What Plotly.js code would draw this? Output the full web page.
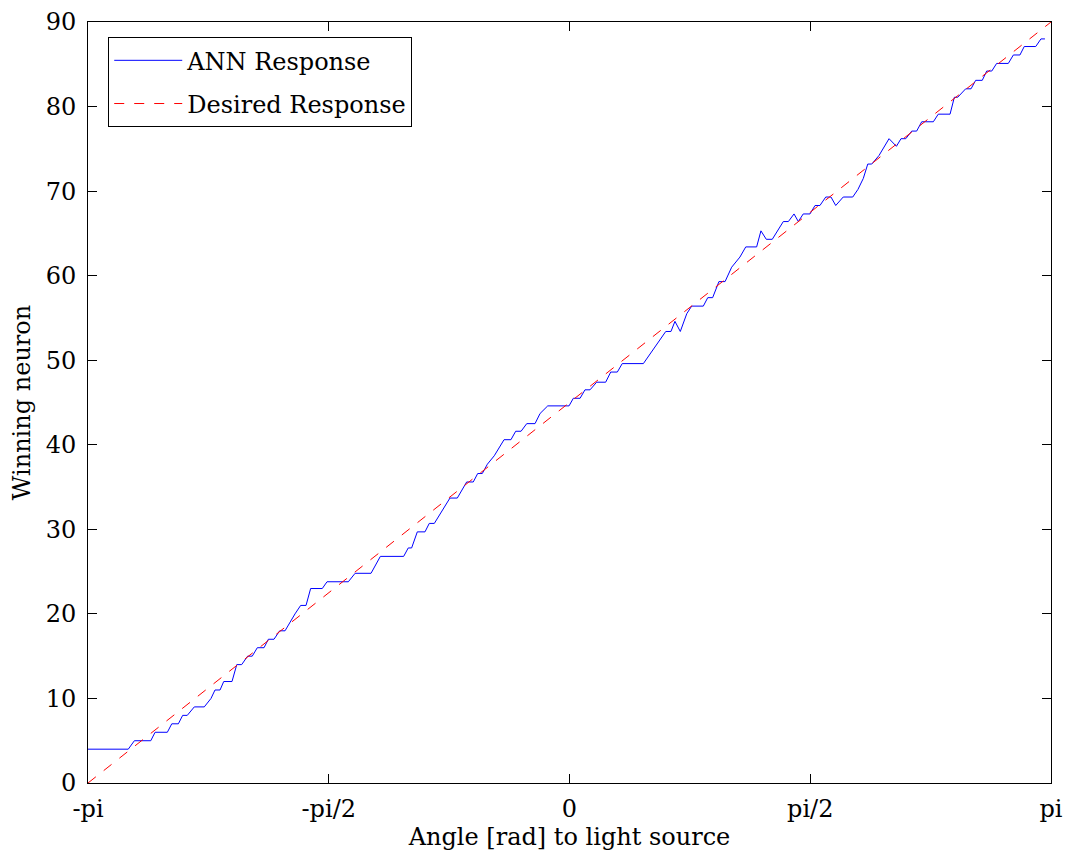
<!DOCTYPE html>
<html>
<head>
<meta charset="utf-8">
<script src="https://cdn.plot.ly/plotly-3.0.1.min.js"></script>
<style>html,body{margin:0;padding:0;background:#fff;}#chart{width:1069px;height:855px;}</style>
</head>
<body>
<div id="chart"></div>
<script>
// ANN response (angle in rad, winning neuron)
const annX = [-3.142,-2.879,-2.839,-2.732,-2.704,-2.624,-2.595,-2.552,-2.524,-2.494,
  -2.448,-2.383,-2.339,-2.313,-2.280,-2.256,-2.202,-2.171,-2.139,-2.100,
  -2.070,-2.037,-1.993,-1.965,-1.928,-1.891,-1.856,-1.824,-1.791,-1.754,
  -1.719,-1.689,-1.613,-1.582,-1.443,-1.399,-1.295,-1.234,-1.082,-1.052,
  -1.030,-0.993,-0.943,-0.915,-0.882,-0.780,-0.732,-0.671,-0.628,-0.599,
  -0.569,-0.536,-0.491,-0.427,-0.382,-0.351,-0.316,-0.279,-0.225,-0.192,
  -0.142,-0.003,0.025,0.069,0.101,0.134,0.177,0.236,0.269,0.312,
  0.344,0.482,0.525,0.590,0.628,0.662,0.688,0.723,0.765,0.797,
  0.873,0.902,0.934,0.975,1.015,1.058,1.112,1.150,1.221,1.249,
  1.284,1.323,1.395,1.428,1.465,1.493,1.525,1.569,1.602,1.634,
  1.672,1.706,1.737,1.786,1.848,1.882,1.917,1.946,1.972,2.019,
  2.085,2.133,2.163,2.194,2.233,2.265,2.298,2.374,2.406,2.483,
  2.511,2.533,2.585,2.620,2.650,2.693,2.722,2.755,2.787,2.863,
  2.896,2.939,2.967,3.042,3.076,3.102];
const annY = [4.0,4.0,5.0,5.0,6.0,6.0,7.0,7.0,8.0,8.0,
  9.0,9.0,10.0,11.0,11.0,12.0,12.0,14.0,14.0,15.0,
  15.0,16.0,16.0,17.0,17.0,18.0,18.0,19.0,20.0,21.0,
  21.0,23.0,23.0,23.8,23.8,24.8,24.8,26.8,26.8,27.8,
  27.8,29.7,29.7,30.7,30.7,33.7,33.7,35.6,35.6,36.6,
  36.6,37.7,38.7,40.6,40.6,41.6,41.6,42.5,42.5,43.7,
  44.6,44.6,45.5,45.5,46.5,46.5,47.4,47.4,48.6,48.6,
  49.6,49.6,50.7,52.5,53.4,53.4,54.6,53.4,55.5,56.4,
  56.4,57.4,57.4,59.3,59.3,61.0,62.2,63.4,63.4,65.3,
  64.3,64.3,66.4,66.4,67.3,66.4,67.3,67.3,68.3,68.3,
  69.3,69.3,68.3,69.3,69.3,70.2,71.5,73.2,73.2,74.2,
  76.2,75.3,76.2,76.2,77.1,77.1,78.2,78.2,79.1,79.1,
  81.1,81.1,82.1,82.1,83.1,83.1,84.2,84.2,85.1,85.1,
  86.1,86.1,87.1,87.1,88.0,88.0];

// Desired response (straight line end points)
const desX = [-3.1416, 0, 3.1416];
const desY = [0, 45, 90];

// x tick positions and labels
const xTickVals = [-Math.PI, -Math.PI/2, 0, Math.PI/2, Math.PI];
const xTickText = ['-pi', '-pi/2', '0', 'pi/2', 'pi'];
const yTickVals = [0,10,20,30,40,50,60,70,80,90];

const FONT = 'DejaVu Serif';

const data = [
  {x: annX, y: annY, type: 'scatter', mode: 'lines', name: 'ANN Response',
   legendgroup: 'a', line: {color: '#0000ff', width: 1}},
  {x: desX, y: desY, type: 'scatter', mode: 'lines', name: 'Desired Response',
   legendgroup: 'b', line: {color: '#ff0000', width: 1, dash: '10px,10px'}}
];

const layout = {
  width: 1069, height: 855,
  margin: {l: 88, r: 18, t: 22, b: 72},
  paper_bgcolor: '#fff', plot_bgcolor: '#fff',
  font: {family: FONT, size: 24, color: '#000'},
  showlegend: true,
  legend: {x: 0.021, y: 0.98, xanchor: 'left', yanchor: 'top',
    bgcolor: '#fff', bordercolor: '#000', borderwidth: 1,
    itemwidth: 68, tracegroupgap: 9, entrywidth: 310,
    font: {family: FONT, size: 24, color: '#000'}},
  xaxis: {range: [-Math.PI, Math.PI], tickvals: xTickVals, ticktext: xTickText,
    ticks: 'inside', ticklen: 9, tickcolor: '#000', tickwidth: 1,
    showline: true, linecolor: '#000', linewidth: 1, mirror: 'allticks',
    showgrid: false, zeroline: false, ticklabelstandoff: 4,
    title: {text: 'Angle [rad] to light source', font: {family: FONT, size: 24}, standoff: 2}},
  yaxis: {range: [0, 90], tickvals: yTickVals,
    ticks: 'inside', ticklen: 9, tickcolor: '#000', tickwidth: 1,
    showline: true, linecolor: '#000', linewidth: 1, mirror: 'allticks',
    showgrid: false, zeroline: false, ticklabelstandoff: 6,
    title: {text: 'Winning neuron', font: {family: FONT, size: 24}, standoff: 8}}
};

Plotly.newPlot('chart', data, layout, {displayModeBar: false, staticPlot: true});
</script>
</body>
</html>
